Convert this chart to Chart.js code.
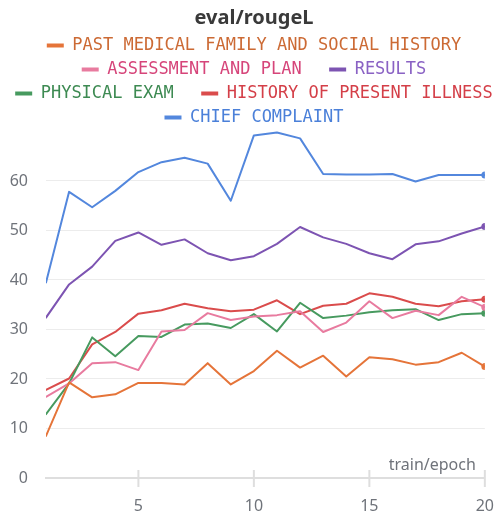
<!DOCTYPE html>
<html><head><meta charset="utf-8">
<script src="https://cdn.jsdelivr.net/npm/chart.js@4.4.1/dist/chart.umd.min.js"></script>
<style>html,body{margin:0;padding:0;background:#fff;}</style>
</head><body>
<canvas id="c" width="494" height="512" style="display:block;width:494px;height:512px"></canvas>
<script>
const epochs = [1, 2, 3, 4, 5, 6, 7, 8, 9, 10, 11, 12, 13, 14, 15, 16, 17, 18, 19, 20];
const seriesNames = ["PAST MEDICAL FAMILY AND SOCIAL HISTORY", "ASSESSMENT AND PLAN", "RESULTS", "PHYSICAL EXAM", "HISTORY OF PRESENT ILLNESS", "CHIEF COMPLAINT"];
const pastMedical = [8.5, 19.3, 16.3, 16.9, 19.2, 19.2, 18.9, 23.2, 18.9, 21.6, 25.7, 22.3, 24.7, 20.5, 24.4, 24.0, 22.9, 23.4, 25.3, 22.5];
const assessment = [16.4, 19.1, 23.2, 23.4, 21.8, 29.6, 29.9, 33.3, 31.9, 32.6, 32.9, 33.7, 29.5, 31.4, 35.7, 32.3, 33.8, 32.9, 36.6, 34.5];
const results = [32.4, 39.1, 42.7, 47.9, 49.6, 47.1, 48.2, 45.4, 44.0, 44.8, 47.3, 50.7, 48.6, 47.3, 45.4, 44.2, 47.2, 47.8, 49.4, 50.8];
const physicalExam = [12.9, 19.1, 28.4, 24.6, 28.7, 28.5, 31.0, 31.2, 30.3, 33.1, 29.6, 35.4, 32.3, 32.8, 33.5, 33.9, 34.1, 31.9, 33.1, 33.3];
const historyPresent = [17.8, 20.1, 27.0, 29.5, 33.2, 33.9, 35.2, 34.3, 33.7, 34.0, 35.9, 33.1, 34.8, 35.2, 37.3, 36.6, 35.2, 34.7, 35.7, 36.1];
const chiefComplaint = [39.5, 57.8, 54.7, 58.0, 61.8, 63.8, 64.7, 63.5, 56.0, 69.2, 69.8, 68.6, 61.4, 61.3, 61.3, 61.4, 59.9, 61.2, 61.2, 61.2];
const seriesValues = [pastMedical, assessment, results, physicalExam, historyPresent, chiefComplaint];
const lineColors = ["#E57439", "#E87B9F", "#7D54B2", "#479A5F", "#DA4C4C", "#5387DD"];
const textColors = ["#CC6A34", "#D6457A", "#8A62C4", "#3D8A52", "#D43F48", "#4B80D9"];
const xTickValues = [5, 10, 15, 20];
const yTickValues = [0, 10, 20, 30, 40, 50, 60];
const chartTitle = "eval/rougeL";
const xAxisName = "train/epoch";
const tickColor = "#6f737a";

const wbPlugin = {
  id: 'wb',
  beforeUpdate(chart) {
    const lg = chart.legend;
    if (lg && !lg._wb) {
      lg._wb = true;
      const fit0 = lg.fit;
      lg.fit = function () { fit0.call(this); if (this.height > 0) this.height -= 8; };
      const draw0 = lg.draw;
      lg.draw = function () { this.ctx.save(); this.ctx.translate(7, 0); draw0.apply(this, arguments); this.ctx.restore(); };
    }
    const tb = chart.titleBlock;
    if (tb && !tb._wb) {
      tb._wb = true;
      const draw1 = tb.draw;
      tb.draw = function () { this.ctx.save(); this.ctx.translate(7, 0); draw1.apply(this, arguments); this.ctx.restore(); };
    }
  },
  afterDraw(chart) {
    const {ctx, chartArea, scales: {x}} = chart;
    ctx.save();
    ctx.strokeStyle = '#dedede';
    ctx.lineWidth = 2;
    x.ticks.forEach(t => {
      const px = x.getPixelForValue(t.value);
      ctx.beginPath();
      ctx.moveTo(px, chartArea.bottom - 8);
      ctx.lineTo(px, chartArea.bottom + 9);
      ctx.stroke();
    });
    ctx.fillStyle = tickColor;
    ctx.font = '16px "Noto Sans"';
    ctx.textAlign = 'right';
    ctx.textBaseline = 'alphabetic';
    ctx.fillText(xAxisName, chartArea.right - 9, chartArea.bottom - 8);
    ctx.restore();
  }
};

const datasets = seriesNames.map((name, i) => ({
  label: name,
  data: epochs.map((e, j) => ({x: e, y: seriesValues[i][j]})),
  borderColor: lineColors[i],
  backgroundColor: lineColors[i],
  borderWidth: 2,
  tension: 0,
  borderJoinStyle: 'round',
  borderCapStyle: 'round',
  pointRadius: ctx => ctx.dataIndex === epochs.length - 1 ? 3.5 : 0,
  pointBorderWidth: 0,
  pointHoverRadius: 0
}));

new Chart(document.getElementById('c'), {
  type: 'line',
  data: {datasets},
  plugins: [wbPlugin],
  options: {
    responsive: false,
    animation: false,
    devicePixelRatio: 1,
    layout: {padding: 0},
    scales: {
      x: {
        type: 'linear', min: 1, max: 20,
        afterBuildTicks: s => { s.ticks = xTickValues.map(v => ({value: v})); },
        ticks: {font: {family: 'Noto Sans', size: 16}, color: tickColor, padding: 0, maxRotation: 0, autoSkip: false},
        grid: {display: true, drawOnChartArea: false, drawTicks: true, tickLength: 19, color: 'rgba(0,0,0,0)'},
        border: {display: true, color: '#dedede', width: 2},
        afterFit: s => { s.height = 34; }
      },
      y: {
        type: 'linear', min: 0, max: 70.7,
        afterBuildTicks: s => { s.ticks = yTickValues.map(v => ({value: v})); },
        ticks: {font: {family: 'Noto Sans', size: 16}, color: tickColor, padding: 18},
        grid: {drawTicks: false, color: '#ececec', lineWidth: 1},
        border: {display: false},
        afterFit: s => { s.width = 46; }
      }
    },
    plugins: {
      title: {
        display: true, text: chartTitle, color: '#3a3a3a',
        font: {family: 'Noto Sans', size: 20, weight: 'bold'},
        padding: {top: 6, bottom: 0}
      },
      legend: {
        display: true, position: 'top',
        labels: {
          font: {family: 'DejaVu Sans Mono', size: 17},
          boxWidth: 17, boxHeight: 4, padding: 7,
          generateLabels: chart => chart.data.datasets.map((ds, i) => ({
            text: ds.label + ((i === 1 || i === 3) ? '  ' : ''),
            fillStyle: lineColors[i], strokeStyle: lineColors[i], lineWidth: 0,
            fontColor: textColors[i], hidden: false, datasetIndex: i
          }))
        }
      },
      tooltip: {enabled: false}
    }
  }
});
</script>
</body></html>
